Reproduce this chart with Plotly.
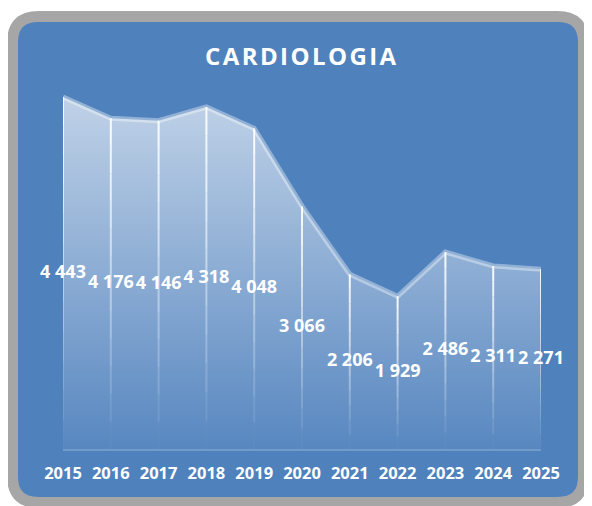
import plotly.graph_objects as go

# Dados
anos = [2015, 2016, 2017, 2018, 2019, 2020, 2021, 2022, 2023, 2024, 2025]
valores = [4443, 4176, 4146, 4318, 4048, 3066, 2206, 1929, 2486, 2311, 2271]
titulo = "CARDIOLOGIA"

# a página tem 8px de margem no body
OFF = 8
W, H = 592 - OFF, 506 - OFF
# área do gráfico em pixels (coordenadas da janela)
PX0, PX1 = 63 - OFF, 541 - OFF
PY0, PY1 = 53 - OFF, 449 - OFF


def px(x):
    return (x - OFF - PX0) / (PX1 - PX0)


def py(y):
    return (PY1 - (y - OFF)) / (PY1 - PY0)


def caixa(x0, y0, x1, y1, r):
    # retângulo arredondado em coordenadas de papel
    return (
        f"M {px(x0 + r)},{py(y0)} L {px(x1 - r)},{py(y0)} "
        f"Q {px(x1)},{py(y0)} {px(x1)},{py(y0 + r)} "
        f"L {px(x1)},{py(y1 - r)} Q {px(x1)},{py(y1)} {px(x1 - r)},{py(y1)} "
        f"L {px(x0 + r)},{py(y1)} Q {px(x0)},{py(y1)} {px(x0)},{py(y1 - r)} "
        f"L {px(x0)},{py(y0 + r)} Q {px(x0)},{py(y0)} {px(x0 + r)},{py(y0)} Z"
    )


fig = go.Figure()

# Área com gradiente
fig.add_trace(go.Scatter(
    x=anos, y=valores,
    mode="lines",
    fill="tozeroy",
    fillgradient=dict(
        type="vertical",
        start=0, stop=max(valores),
        colorscale=[[0, "rgba(255,255,255,0.05)"], [1, "rgba(255,255,255,0.64)"]],
    ),
    line=dict(color="rgba(255,255,255,0.38)", width=5),
    hoverinfo="skip",
))

# Linhas verticais que desvanecem
n = 12
for k in range(n):
    xs, ys = [], []
    for a, v in zip(anos, valores):
        xs += [a, a, None]
        ys += [v * (1 - k / n), v * (1 - (k + 1) / n), None]
    fig.add_trace(go.Scatter(
        x=xs, y=ys, mode="lines",
        line=dict(color=f"rgba(255,255,255,{0.9 - 0.88 * k / (n - 1):.3f})", width=2),
        hoverinfo="skip",
    ))

# Rótulos de dados
fig.add_trace(go.Scatter(
    x=anos, y=[v / 2 for v in valores],
    mode="text",
    text=[f"{v:,}".replace(",", " ") for v in valores],
    textfont=dict(family="Open Sans", size=18, color="white", weight="bold"),
    textposition="middle center",
    cliponaxis=False,
    hoverinfo="skip",
))

fig.update_layout(
    width=W, height=H,
    margin=dict(l=PX0, r=W - PX1, t=PY0, b=H - PY1),
    paper_bgcolor="white",
    plot_bgcolor="rgba(0,0,0,0)",
    showlegend=False,
    xaxis=dict(
        range=[2015, 2025], tickvals=anos, ticktext=[str(a) for a in anos],
        showgrid=False, zeroline=False,
        showline=True, linecolor="rgba(255,255,255,0.2)", linewidth=2,
        ticks="", ticklabelstandoff=8,
        tickfont=dict(family="Open Sans", size=16.5, color="white", weight="bold"),
    ),
    yaxis=dict(range=[0, 5000], visible=False),
    shapes=[dict(
        type="path", xref="paper", yref="paper", layer="below",
        path=caixa(12.5, 16.5, 583.5, 502.5, 26),
        fillcolor="#4f81bd",
        line=dict(color="#a6a6a6", width=11),
    )],
    annotations=[dict(
        text="\u200a".join(titulo),
        xref="paper", yref="paper", x=px(301), y=py(55),
        xanchor="center", yanchor="middle", showarrow=False,
        font=dict(family="Open Sans", size=24, color="white", weight="bold"),
    )],
)

fig.write_html("out.html")
